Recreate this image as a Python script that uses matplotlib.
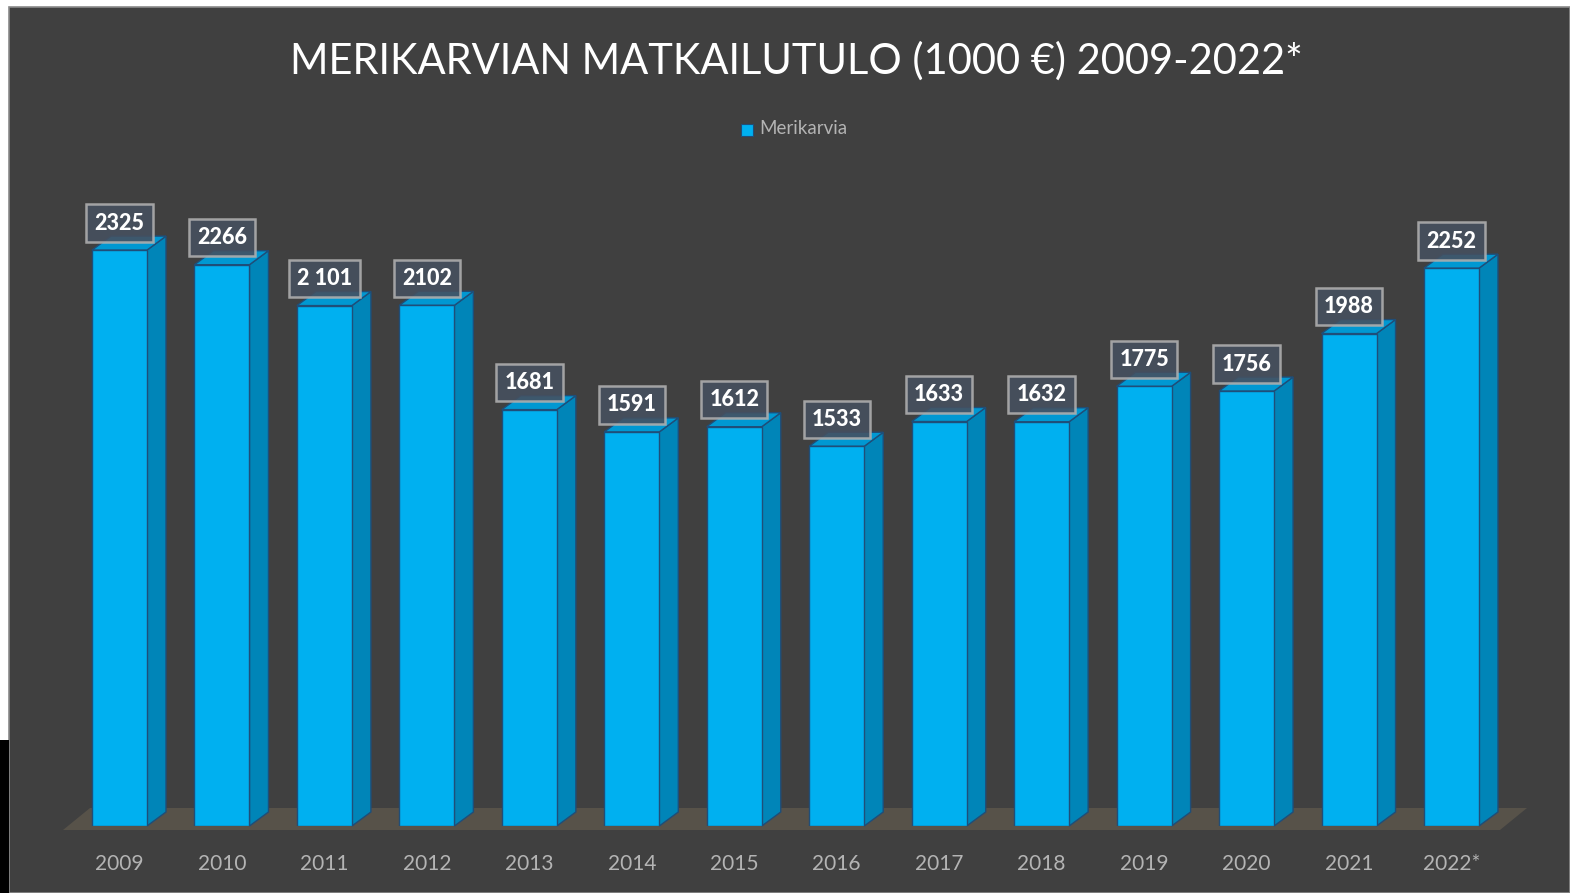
import matplotlib
matplotlib.use("Agg")
import matplotlib.pyplot as plt
from matplotlib.patches import Rectangle, Polygon
import numpy as np

years = ["2009", "2010", "2011", "2012", "2013", "2014", "2015", "2016",
         "2017", "2018", "2019", "2020", "2021", "2022*"]
values = [2325, 2266, 2101, 2102, 1681, 1591, 1612, 1533, 1633, 1632, 1775, 1756, 1988, 2252]
value_labels = ["2325", "2266", "2 101", "2102", "1681", "1591", "1612", "1533",
                "1633", "1632", "1775", "1756", "1988", "2252"]
title = "MERIKARVIAN MATKAILUTULO (1000 €) 2009-2022*"
series_name = "Merikarvia"

W, H = 1570, 893
fig = plt.figure(figsize=(W / 100, H / 100), dpi=100)
fig.patch.set_facecolor("white")

# background panel
fig.add_artist(Rectangle((9 / W, 0), 1 - 9 / W, 1 - 7 / H, transform=fig.transFigure,
                         facecolor="#404040", edgecolor="#8a8a8a", lw=1.2, zorder=0))
fig.add_artist(Rectangle((0, 0), 9 / W, (893 - 740) / H, transform=fig.transFigure,
                         facecolor="black", edgecolor="none", zorder=0))

# axes geometry (pixel-based)
px_per_unit = 0.2477
spacing = 102.46
x0_px = 119.5
ax_left_px, ax_right_px = 40, 1540
ax_bottom_px, ax_top_px = 826, 150
ax = fig.add_axes([ax_left_px / W, (H - ax_bottom_px) / H,
                   (ax_right_px - ax_left_px) / W, (ax_bottom_px - ax_top_px) / H])
ax.set_facecolor("none")
ax.set_xlim((ax_left_px - x0_px) / spacing, (ax_right_px - x0_px) / spacing)
ax.set_ylim(0, (ax_bottom_px - ax_top_px) / px_per_unit)
for s in ax.spines.values():
    s.set_visible(False)
ax.set_yticks([])

x = np.arange(len(years))
bw = 55 / spacing
ddx = 19 / spacing
ddy = 14 / px_per_unit

front = "#00B0F0"
side = "#0085B8"
topc = "#0098D2"
edge = "#1F4E79"

# floor
fdx = 27 / spacing
fdy = 22 / px_per_unit
fy0 = -4 / px_per_unit
fl = (63 - x0_px) / spacing
fr = (1500 - x0_px) / spacing
floor = Polygon([(fl, fy0), (fr, fy0), (fr + fdx, fy0 + fdy), (fl + fdx, fy0 + fdy)],
                closed=True, facecolor="#575249", edgecolor="none", zorder=1, clip_on=False)
ax.add_patch(floor)

for i, v in enumerate(values):
    xl = x[i] - bw / 2
    xr = x[i] + bw / 2
    sidep = Polygon([(xr, 0), (xr + ddx, ddy), (xr + ddx, v + ddy), (xr, v)], closed=True,
                    facecolor=side, edgecolor=edge, lw=1, zorder=2, clip_on=False)
    topp = Polygon([(xl, v), (xr, v), (xr + ddx, v + ddy), (xl + ddx, v + ddy)], closed=True,
                   facecolor=topc, edgecolor=edge, lw=1, zorder=2, clip_on=False)
    ax.add_patch(sidep)
    ax.add_patch(topp)

ax.bar(x, values, width=bw, color=front, edgecolor=edge, linewidth=1, zorder=3)

for i, v in enumerate(values):
    ax.annotate(value_labels[i], (x[i], v), xytext=(0, 27), textcoords="offset pixels",
                ha="center", va="center", color="white", fontsize=15.5, fontweight="black",
                family="Lato", zorder=5,
                bbox=dict(boxstyle="square,pad=0.38", facecolor="#46505f", alpha=0.88,
                          edgecolor="#b0b0b0", lw=1.8))

ax.set_xticks(x)
ax.set_xticklabels(years, color="#b4b4b4", fontsize=15, family="Lato")
ax.tick_params(axis="x", length=0, pad=20)

fig.text(796 / W, 1 - 61 / H, title, ha="center", va="center", color="white",
         fontsize=30, family="Lato")

# legend
fig.add_artist(Rectangle((741 / W, 1 - 136 / H), 12 / W, 12 / H, transform=fig.transFigure,
                         facecolor=front, edgecolor=edge, lw=0.8))
fig.text(759 / W, 1 - 129 / H, series_name, ha="left", va="center", color="#b4b4b4",
         fontsize=13.5, family="Lato")

fig.savefig("out.png", dpi=100)
